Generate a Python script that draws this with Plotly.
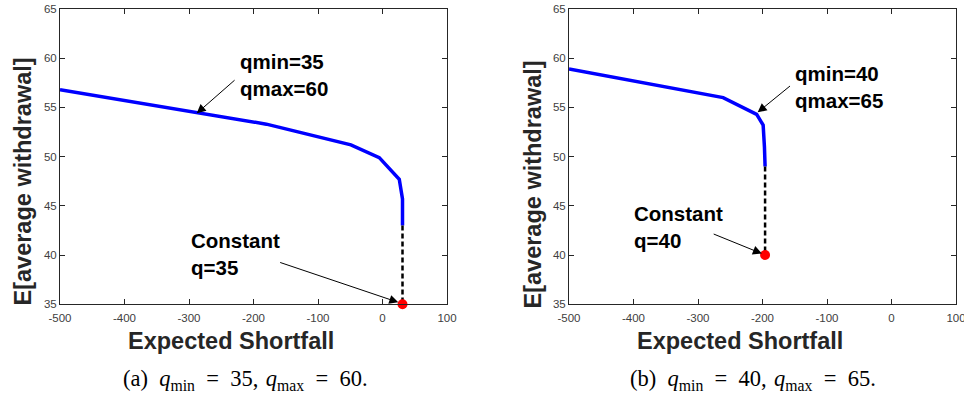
import plotly.graph_objects as go

# ---------------- data ----------------
# Panel (a): qmin=35, qmax=60
es_a = [-500, -180, -49, -5, 26, 31, 31]
ew_a = [56.8, 53.3, 51.2, 49.9, 47.7, 45.7, 43.0]
const_es_a = [31]
const_ew_a = [35]

# Panel (b): qmin=40, qmax=65
es_b = [-500, -261, -209, -199, -197, -196]
ew_b = [58.9, 56.0, 54.3, 53.2, 51.0, 49.0]
const_es_b = [-196]
const_ew_b = [40]

x_ticks = [-500, -400, -300, -200, -100, 0, 100]
x_tick_labels = ["-500", "-400", "-300", "-200", "-100", "0", "100"]
y_ticks = [35, 40, 45, 50, 55, 60, 65]
y_tick_labels = ["35", "40", "45", "50", "55", "60", "65"]

EQ = "&#8194;=&#8194;"
captions = [
    "(a)&#8194;<i>q</i><sub>min</sub>" + EQ + "35,&#8196;<i>q</i><sub>max</sub>" + EQ + "60.",
    "(b)&#8194;<i>q</i><sub>min</sub>" + EQ + "40,&#8196;<i>q</i><sub>max</sub>" + EQ + "65.",
]

# ---------------- figure ----------------
W, H = 964, 393
fig = go.Figure()

BLUE = "#0000ff"
RED = "#ff0000"


def add_panel(xs, ys, cx, cy, xa, ya):
    fig.add_trace(go.Scatter(x=xs, y=ys, mode="lines",
                             line=dict(color=BLUE, width=3.5),
                             xaxis=xa, yaxis=ya, showlegend=False, hoverinfo="skip"))
    fig.add_trace(go.Scatter(x=[xs[-1], cx[0]], y=[ys[-1], cy[0]], mode="lines",
                             line=dict(color="black", width=2.5, dash="5px,3px"),
                             xaxis=xa, yaxis=ya, showlegend=False, hoverinfo="skip"))
    fig.add_trace(go.Scatter(x=cx, y=cy, mode="markers",
                             marker=dict(color=RED, size=10, symbol="circle"),
                             xaxis=xa, yaxis=ya, showlegend=False, hoverinfo="skip",
                             cliponaxis=False))


add_panel(es_a, ew_a, const_es_a, const_ew_a, "x", "y")
add_panel(es_b, ew_b, const_es_b, const_ew_b, "x2", "y2")

y_dom = [1 - 304.3 / H, 1 - 9 / H]
tick_font = dict(family="Liberation Sans, Arial", size=11.5, color="#404040")
ax_common = dict(showline=True, linecolor="#262626", linewidth=1, mirror="ticks",
                 ticks="inside", ticklen=5, tickwidth=1, tickcolor="#262626",
                 showgrid=False, zeroline=False, automargin=False,
                 ticklabeloverflow="allow", tickfont=tick_font)

fig.update_layout(
    template="none",
    width=W, height=H,
    margin=dict(l=0, r=0, t=0, b=0, pad=0),
    paper_bgcolor="white", plot_bgcolor="white",
    xaxis=dict(domain=[60 / W, 447 / W], range=[-500, 100], tickvals=x_ticks,
               ticktext=x_tick_labels, anchor="y", ticklabelstandoff=3, **ax_common),
    yaxis=dict(domain=y_dom, range=[35, 65], tickvals=y_ticks, ticktext=y_tick_labels,
               anchor="x", **ax_common),
    xaxis2=dict(domain=[569 / W, 956 / W], range=[-500, 100], tickvals=x_ticks,
                ticktext=x_tick_labels, anchor="y2", ticklabelstandoff=3, **ax_common),
    yaxis2=dict(domain=y_dom, range=[35, 65], tickvals=y_ticks, ticktext=y_tick_labels,
                anchor="x2", **ax_common),
)

ann_font = dict(family="Liberation Sans, Arial", size=20.5, color="black")
title_font = dict(family="Liberation Sans, Arial", size=23.5, color="#262626")
arrow = dict(showarrow=True, arrowhead=2, arrowsize=1.8, arrowwidth=1,
             arrowcolor="black", text="")

annotations = [
    # panel (a) arrows
    dict(x=-288, y=54.4, ax=-227, ay=57.9, xref="x", yref="y", axref="x", ayref="y", **arrow),
    dict(x=24.5, y=35.2, ax=-161, ay=39.3, xref="x", yref="y", axref="x", ayref="y", **arrow),
    # panel (b) arrows
    dict(x=-207.5, y=54.5, ax=-155, ay=57.3, xref="x2", yref="y2", axref="x2", ayref="y2", **arrow),
    dict(x=-201, y=40.15, ax=-278, ay=42.2, xref="x2", yref="y2", axref="x2", ayref="y2", **arrow),
    # panel (a) texts
    dict(x=-224, y=58.3, xref="x", yref="y", text="<b>qmin=35<br>qmax=60</b>",
         showarrow=False, xanchor="left", yanchor="middle", align="left", font=ann_font),
    dict(x=-300, y=40.1, xref="x", yref="y", text="<b>Constant<br>q=35</b>",
         showarrow=False, xanchor="left", yanchor="middle", align="left", font=ann_font),
    # panel (b) texts
    dict(x=-152, y=57.1, xref="x2", yref="y2", text="<b>qmin=40<br>qmax=65</b>",
         showarrow=False, xanchor="left", yanchor="middle", align="left", font=ann_font),
    dict(x=-403, y=42.85, xref="x2", yref="y2", text="<b>Constant<br>q=40</b>",
         showarrow=False, xanchor="left", yanchor="middle", align="left", font=ann_font),
    # axis titles
    dict(x=231 / W, y=1 - 341 / H, xref="paper", yref="paper", text="<b>Expected Shortfall</b>",
         showarrow=False, xanchor="center", yanchor="middle", font=title_font),
    dict(x=740 / W, y=1 - 341 / H, xref="paper", yref="paper", text="<b>Expected Shortfall</b>",
         showarrow=False, xanchor="center", yanchor="middle", font=title_font),
    dict(x=22.5 / W, y=1 - 182 / H, xref="paper", yref="paper", text="<b>E[average withdrawal]</b>",
         showarrow=False, xanchor="center", yanchor="middle", textangle=-90, font=title_font),
    dict(x=532.5 / W, y=1 - 185 / H, xref="paper", yref="paper", text="<b>E[average withdrawal]</b>",
         showarrow=False, xanchor="center", yanchor="middle", textangle=-90, font=title_font),
    # captions
    dict(x=245 / W, y=1 - 380 / H, xref="paper", yref="paper", text=captions[0],
         showarrow=False, xanchor="center", yanchor="middle",
         font=dict(family="Liberation Serif, DejaVu Serif", size=22.5, color="black")),
    dict(x=753 / W, y=1 - 380 / H, xref="paper", yref="paper", text=captions[1],
         showarrow=False, xanchor="center", yanchor="middle",
         font=dict(family="Liberation Serif, DejaVu Serif", size=22.5, color="black")),
]
fig.update_layout(annotations=annotations)

fig.write_html("out.html", config={"displayModeBar": False},
               post_script="document.body.style.margin='0';document.body.style.overflow='hidden';")
